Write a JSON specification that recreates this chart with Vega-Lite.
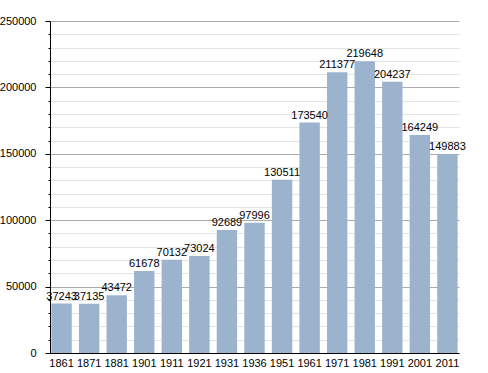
{
  "$schema": "https://vega.github.io/schema/vega-lite/v6.json",
  "width": 409,
  "height": 332,
  "autosize": "none",
  "padding": {"left": 50, "top": 21, "right": 29, "bottom": 20},
  "background": "white",
  "config": {
    "view": {"stroke": null},
    "font": "Liberation Sans",
    "axis": {"labelFont": "Liberation Sans", "labelFontSize": 11, "labelColor": "#000", "domainColor": "#000", "domainWidth": 1}
  },
  "data": {
    "values": [
      {"year": "1861", "pop": 37243},
      {"year": "1871", "pop": 37135},
      {"year": "1881", "pop": 43472},
      {"year": "1901", "pop": 61678},
      {"year": "1911", "pop": 70132},
      {"year": "1921", "pop": 73024},
      {"year": "1931", "pop": 92689},
      {"year": "1936", "pop": 97996},
      {"year": "1951", "pop": 130511},
      {"year": "1961", "pop": 173540},
      {"year": "1971", "pop": 211377},
      {"year": "1981", "pop": 219648},
      {"year": "1991", "pop": 204237},
      {"year": "2001", "pop": 164249},
      {"year": "2011", "pop": 149883}
    ]
  },
  "encoding": {
    "x": {
      "field": "year", "type": "nominal", "sort": null,
      "scale": {"paddingInner": 0.26, "paddingOuter": 0.05},
      "axis": {"title": null, "labelAngle": 0, "ticks": false, "labelPadding": 4}
    },
    "y": {
      "field": "pop", "type": "quantitative",
      "scale": {"domain": [0, 250000], "nice": false},
      "axis": {
        "title": null,
        "values": [0,10000,20000,30000,40000,50000,60000,70000,80000,90000,100000,110000,120000,130000,140000,150000,160000,170000,180000,190000,200000,210000,220000,230000,240000,250000],
        "format": "d",
        "labelExpr": "datum.value % 50000 === 0 ? datum.label : ''",
        "tickColor": "#000",
        "tickSize": {"condition": {"test": "datum.value % 50000 === 0", "value": 5}, "value": 2},
        "labelPadding": 9,
        "gridColor": {"condition": {"test": "datum.value % 50000 === 0", "value": "#aaaaaa"}, "value": "#e4e4e4"},
        "labelOverlap": false
      }
    }
  },
  "layer": [
    {"mark": {"type": "bar", "color": "#9bb3cd"}},
    {
      "mark": {"type": "text", "baseline": "alphabetic", "dy": -4, "fontSize": 11, "font": "Liberation Sans", "color": "#000"},
      "encoding": {"text": {"field": "pop", "type": "quantitative", "format": "d"}}
    }
  ]
}
